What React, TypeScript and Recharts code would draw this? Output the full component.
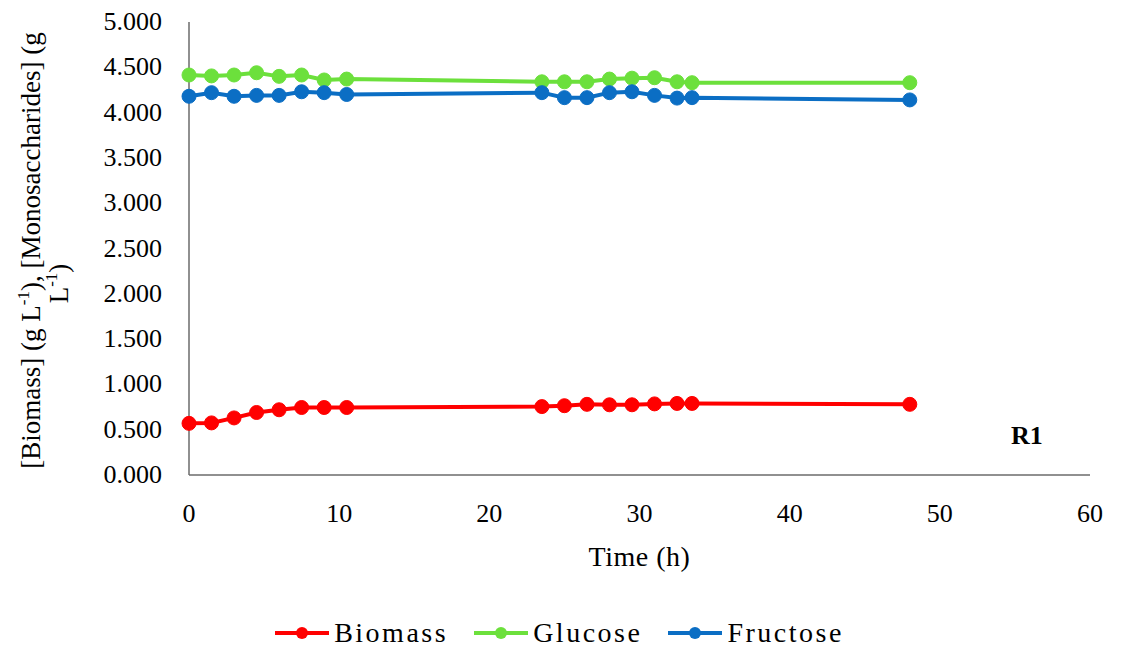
import { LineChart, Line, XAxis, YAxis, Legend, Label, ReferenceDot } from "recharts";

const times = [0, 1.5, 3, 4.5, 6, 7.5, 9, 10.5, 23.5, 25, 26.5, 28, 29.5, 31, 32.5, 33.5, 48];
const biomass = [0.57, 0.575, 0.63, 0.69, 0.72, 0.745, 0.745, 0.745, 0.755, 0.765, 0.78, 0.775, 0.775, 0.785, 0.79, 0.79, 0.78];
const glucose = [4.415, 4.405, 4.415, 4.44, 4.4, 4.415, 4.36, 4.37, 4.34, 4.34, 4.34, 4.37, 4.38, 4.385, 4.34, 4.33, 4.33];
const fructose = [4.18, 4.22, 4.18, 4.19, 4.19, 4.23, 4.22, 4.2, 4.22, 4.165, 4.165, 4.22, 4.23, 4.19, 4.16, 4.165, 4.14];

const xTicks = [0, 10, 20, 30, 40, 50, 60];
const yTicks = [0, 0.5, 1, 1.5, 2, 2.5, 3, 3.5, 4, 4.5, 5];

const FONT = '"Liberation Serif", "Times New Roman", serif';
const AXIS = "#6b6b6b";

const series = [
  { key: "biomass", name: "Biomass", color: "#FF0000" },
  { key: "glucose", name: "Glucose", color: "#6CE03C" },
  { key: "fructose", name: "Fructose", color: "#0B6EC4" },
];

const data = times.map((t, i) => ({
  time: t,
  biomass: biomass[i],
  glucose: glucose[i],
  fructose: fructose[i],
}));

function XTick(props: any) {
  const { x, y, payload } = props;
  return (
    <text x={x} y={y} dy={19} textAnchor="middle" fontSize={26} fill="#000" style={{ fontFamily: FONT }}>
      {payload.value}
    </text>
  );
}

function YTick(props: any) {
  const { x, y, payload } = props;
  return (
    <text x={x} y={y} dy={8} textAnchor="end" fontSize={26} fill="#000" style={{ fontFamily: FONT }}>
      {Number(payload.value).toFixed(3)}
    </text>
  );
}

// two-line rotated y label, like the Excel original
function YLabel(props: any) {
  const vb = props.viewBox || { x: 0, y: 22, height: 453 };
  const cy = vb.y + vb.height / 2;
  const sup = { fontSize: 17 };
  return (
    <g style={{ fontFamily: FONT }} fontSize={27} fill="#000">
      <text transform={`translate(40, ${cy + 2}) rotate(-90)`} textAnchor="middle">
        [Biomass] (g L<tspan dy={-11} style={sup}>-1</tspan>
        <tspan dy={11}>), [Monosaccharides] (g</tspan>
      </text>
      <text transform={`translate(68, ${cy + 35}) rotate(-90)`} textAnchor="middle">
        L<tspan dy={-11} style={sup}>-1</tspan>
        <tspan dy={11}>)</tspan>
      </text>
    </g>
  );
}

function LegendContent() {
  return (
    <div
      style={{
        display: "flex",
        justifyContent: "center",
        width: 1137,
        paddingRight: 18,
        paddingTop: 32,
        boxSizing: "border-box",
        fontFamily: FONT,
        fontSize: 28,
        letterSpacing: 2.5,
        color: "#000",
      }}
    >
      {series.map((s, i) => (
        <div
          key={s.key}
          style={{ display: "flex", alignItems: "center", marginRight: i < series.length - 1 ? 26 : 0 }}
        >
          <svg width={54} height={20} style={{ marginRight: 5 }}>
            <line x1={0} y1={10} x2={54} y2={10} stroke={s.color} strokeWidth={4} />
            <circle cx={27} cy={10} r={6} fill={s.color} />
          </svg>
          <span>{s.name}</span>
        </div>
      ))}
    </div>
  );
}

export default function App() {
  return (
    <div style={{ position: "absolute", left: 0, top: 0, background: "#fff", fontFamily: FONT }}>
      <LineChart
        width={1137}
        height={648}
        data={data}
        margin={{ top: 22, right: 47, left: 0, bottom: 0 }}
        style={{ fontFamily: FONT }}
      >
        <XAxis
          dataKey="time"
          type="number"
          domain={[0, 60]}
          ticks={xTicks}
          interval={0}
          tickLine={false}
          tickSize={0}
          tickMargin={28}
          height={110}
          stroke={AXIS}
          strokeWidth={1.5}
          tick={XTick}
        >
          <Label
            value="Time (h)"
            position="insideBottom"
            offset={19}
            style={{ fill: "#000", fontSize: 28, fontFamily: FONT, letterSpacing: 0.5 }}
          />
        </XAxis>
        <YAxis
          type="number"
          domain={[0, 5]}
          ticks={yTicks}
          interval={0}
          width={189}
          tickLine={false}
          tickSize={0}
          tickMargin={27}
          stroke={AXIS}
          strokeWidth={1.5}
          tick={YTick}
        >
          <Label content={YLabel} />
        </YAxis>
        <Legend verticalAlign="bottom" height={63} content={LegendContent} />
        {series.map((s) => (
          <Line
            key={s.key}
            type="linear"
            dataKey={s.key}
            name={s.name}
            stroke={s.color}
            strokeWidth={4}
            dot={{ r: 7, fill: s.color, stroke: s.color, strokeWidth: 1 }}
            activeDot={false}
            isAnimationActive={false}
          />
        ))}
        <ReferenceDot x={55.8} y={0.44} r={0} fill="none" stroke="none">
          <Label
            value="R1"
            position="center"
            style={{ fill: "#000", fontSize: 26, fontWeight: "bold", fontFamily: FONT }}
          />
        </ReferenceDot>
      </LineChart>
    </div>
  );
}
